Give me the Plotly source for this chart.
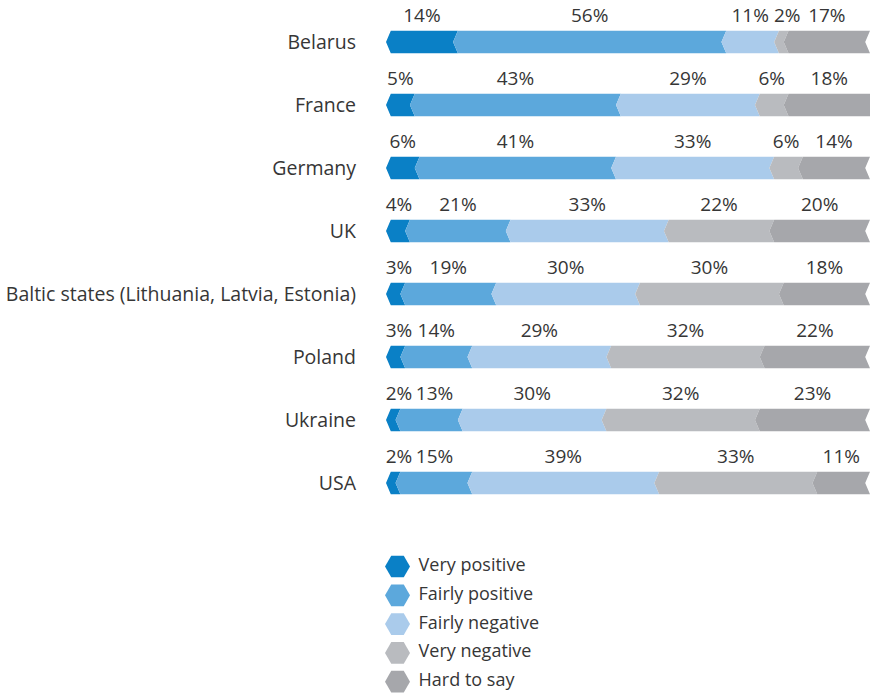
import plotly.graph_objects as go

countries = ["Belarus", "France", "Germany", "UK",
             "Baltic states (Lithuania, Latvia, Estonia)", "Poland", "Ukraine", "USA"]
categories = ["Very positive", "Fairly positive", "Fairly negative", "Very negative", "Hard to say"]
very_positive = [14, 5, 6, 4, 3, 3, 2, 2]
fairly_positive = [56, 43, 41, 21, 19, 14, 13, 15]
fairly_negative = [11, 29, 33, 33, 30, 29, 30, 39]
very_negative = [2, 6, 6, 22, 30, 32, 32, 33]
hard_to_say = [17, 18, 14, 20, 18, 22, 23, 11]
colors = ["#0A80C6", "#5CA8DC", "#AACBEB", "#B9BBBF", "#A6A7AB"]

series = [very_positive, fairly_positive, fairly_negative, very_negative, hard_to_say]

FONT = "Open Sans"
TXT = "#363636"
LBL_SIZE = 19
D = 1.0    # chevron depth (data units)
H = 0.18   # half bar thickness (row units)
LBL_OFF = 0.39
PLOT_W_PX = 484.0
X_MAX = 101.0
PX_PER_UNIT = PLOT_W_PX / X_MAX
GAP_PX = 4.0


def text_w(s):
    # approximate rendered width (px) of a percentage label
    return sum(0.80 * LBL_SIZE if ch == "%" else 0.572 * LBL_SIZE for ch in s)


n = len(countries)
label_x = [[0.0] * len(series) for _ in range(n)]
for i in range(n):
    prev_right = None
    for k in range(len(series)):
        x0 = sum(s[i] for s in series[:k])
        x1 = x0 + series[k][i]
        w = text_w(f"{series[k][i]}%") / PX_PER_UNIT
        c = max((x0 + x1) / 2 + D / 2, x0 + w / 2)
        if prev_right is not None:
            c = max(c, prev_right + GAP_PX / PX_PER_UNIT + w / 2)
        label_x[i][k] = c
        prev_right = c + w / 2

fig = go.Figure()
for k, (name, vals, col) in enumerate(zip(categories, series, colors)):
    xs, ys, tx, ty, tt = [], [], [], [], []
    for i in range(n):
        x0 = sum(s[i] for s in series[:k])
        x1 = x0 + vals[i]
        xs += [x0, x0 + D, x1 + D, x1, x1 + D, x0 + D, x0, None]
        ys += [i, i - H, i - H, i, i + H, i + H, i, None]
        tx.append(label_x[i][k])
        ty.append(i - LBL_OFF)
        tt.append(f"{vals[i]}%")
    fig.add_trace(go.Scatter(x=xs, y=ys, fill="toself", fillcolor=col, mode="lines",
                             line=dict(width=0, color=col), hoverinfo="skip",
                             showlegend=False, xaxis="x", yaxis="y"))
    fig.add_trace(go.Scatter(x=tx, y=ty, mode="text", text=tt, textposition="middle center",
                             textfont=dict(family=FONT, size=LBL_SIZE, color=TXT),
                             cliponaxis=False,
                             hoverinfo="skip", showlegend=False, xaxis="x", yaxis="y"))

# manual legend
leg_idx = list(range(len(categories)))
fig.add_trace(go.Scatter(x=[2.4] * len(categories), y=leg_idx, mode="markers",
                         marker=dict(symbol="hexagon2", size=25, color=colors, line=dict(width=0)),
                         cliponaxis=False,
                         hoverinfo="skip", showlegend=False, xaxis="x2", yaxis="y2"))
fig.add_trace(go.Scatter(x=[6.8] * len(categories), y=leg_idx, mode="text", text=categories,
                         textposition="middle right",
                         textfont=dict(family=FONT, size=18, color=TXT),
                         cliponaxis=False,
                         hoverinfo="skip", showlegend=False, xaxis="x2", yaxis="y2"))

H_PX = 696
main_top = 1 - 10.5 / H_PX
main_bot = 1 - 514.5 / H_PX
leg_px = 28.8
leg_first = 566.5

fig.update_layout(
    width=871, height=696,
    margin=dict(l=386, r=1, t=0, b=0, pad=0),
    paper_bgcolor="white", plot_bgcolor="white",
    font=dict(family=FONT, size=19, color=TXT),
    showlegend=False,
    xaxis=dict(range=[0, X_MAX], domain=[0, 1], showgrid=False, zeroline=False,
               showticklabels=False, showline=False, fixedrange=True),
    yaxis=dict(range=[7.5, -0.5], domain=[main_bot, main_top], showgrid=False, zeroline=False,
               tickmode="array", tickvals=list(range(n)), ticktext=countries,
               ticks="", ticklabelstandoff=29, showline=False,
               tickfont=dict(family=FONT, size=19.5, color=TXT), fixedrange=True),
    xaxis2=dict(range=[0, X_MAX], domain=[0, 1], anchor="y2", showgrid=False, zeroline=False,
                showticklabels=False, showline=False, fixedrange=True),
    yaxis2=dict(range=[(696 - leg_first) / leg_px, -(leg_first - 514.5) / leg_px],
                domain=[0, main_bot], anchor="x2", showgrid=False, zeroline=False,
                showticklabels=False, showline=False, fixedrange=True),
)

fig.write_html("out.html",
               config={"displayModeBar": False},
               post_script="document.body.style.margin='0px';document.body.style.overflow='hidden';")
